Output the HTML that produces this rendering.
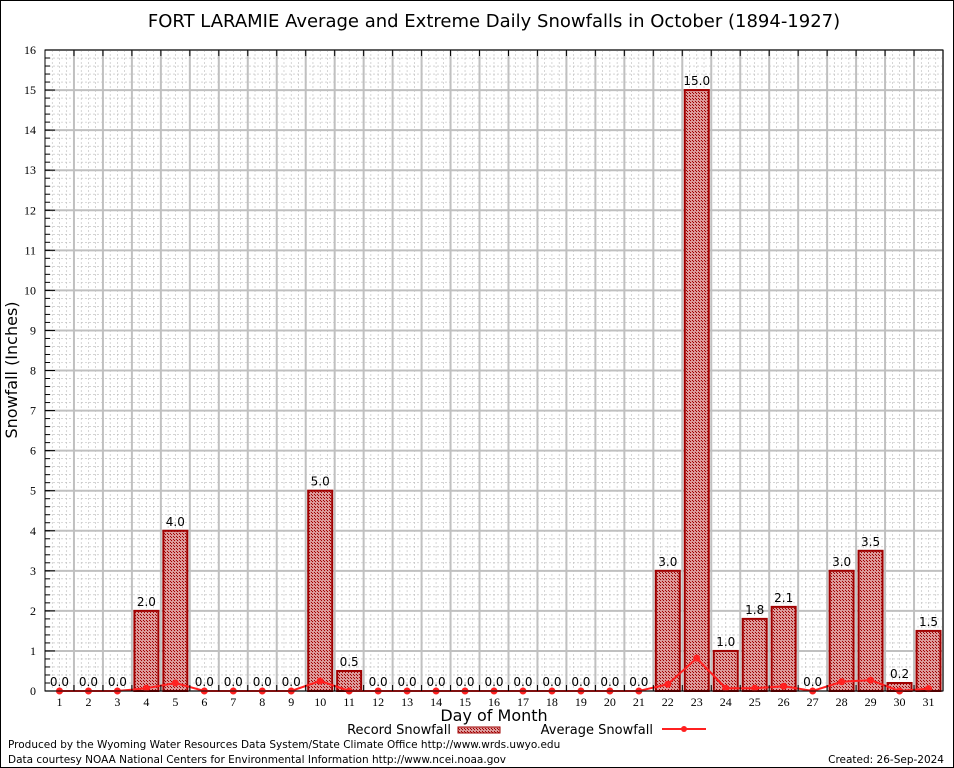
<!DOCTYPE html>
<html><head><meta charset="utf-8"><style>
body{margin:0;background:#fff}
svg{display:block;font-family:"DejaVu Sans","Liberation Sans",sans-serif}
</style></head><body>
<svg id="c" width="954" height="768" xmlns="http://www.w3.org/2000/svg">
<defs>
<pattern id="hatch" width="3" height="3" patternUnits="userSpaceOnUse">
<rect width="3" height="3" fill="#dc9a9a"/>
<rect width="1" height="1" fill="#a00000"/><rect x="2" y="2" width="1" height="1" fill="#a00000"/>
</pattern>
</defs>
<rect x="0.5" y="0.5" width="953" height="767" fill="#fff" stroke="#000"/>
<text x="494" y="27" font-size="18" text-anchor="middle">FORT LARAMIE Average and Extreme Daily Snowfalls in October (1894-1927)</text>
<g id="grid"></g>
<g id="bars"></g>
<g id="avg"></g>
<g id="axes"></g>
<text x="17" y="370" font-size="16" text-anchor="middle" transform="rotate(-90 17 370)">Snowfall (Inches)</text>
<text x="494" y="721" font-size="16" text-anchor="middle">Day of Month</text>
<g>
<text x="451" y="734" font-size="13" text-anchor="end">Record Snowfall</text>
<rect x="458" y="727" width="42" height="6" fill="url(#hatch)" stroke="#a00000"/>
<text x="653" y="734" font-size="13" text-anchor="end">Average Snowfall</text>
<line x1="662" y1="729" x2="706" y2="729" stroke="#ff2020" stroke-width="2"/>
<circle cx="684" cy="729" r="3" fill="#ff2020"/>
</g>
<text x="8" y="748" font-size="10.5">Produced by the Wyoming Water Resources Data System/State Climate Office http://www.wrds.uwyo.edu</text>
<text x="8" y="763" font-size="10.5">Data courtesy NOAA National Centers for Environmental Information http://www.ncei.noaa.gov</text>
<text x="944" y="763" font-size="10.5" text-anchor="end">Created: 26-Sep-2024</text>
</svg>
<script>
const days=[1,2,3,4,5,6,7,8,9,10,11,12,13,14,15,16,17,18,19,20,21,22,23,24,25,26,27,28,29,30,31];
const recordValues=[0,0,0,2.0,4.0,0,0,0,0,5.0,0.5,0,0,0,0,0,0,0,0,0,0,3.0,15.0,1.0,1.8,2.1,0,3.0,3.5,0.2,1.5];
const averageValues=[0,0,0,0.07,0.2,0,0,0,0,0.25,0,0,0,0,0,0,0,0,0,0,0,0.17,0.82,0.07,0.07,0.12,0,0.23,0.27,0,0.06];
const yTicks=[0,1,2,3,4,5,6,7,8,9,10,11,12,13,14,15,16];
const L=45,R=943,T=50,B=691;
const x=d=>L+(d-0.5)*(R-L)/31;
const y=v=>B-v*(B-T)/16;
const NS="http://www.w3.org/2000/svg";
function mk(tag,attrs,parent){const e=document.createElementNS(NS,tag);for(const k in attrs)e.setAttribute(k,attrs[k]);document.getElementById(parent).appendChild(e);return e;}
for(let v=0;v<=16;v+=0.2){let l=mk('line',{x1:L,x2:R,y1:y(v),y2:y(v),stroke:'#bbb','stroke-width':0.6,'stroke-dasharray':'2,2'},'grid');

}
for(let d=0.5;d<=31.5;d+=0.25){let l=mk('line',{x1:x(d),x2:x(d),y1:T,y2:B,stroke:'#bbb','stroke-width':0.6,'stroke-dasharray':'2,2'},'grid');

}
yTicks.forEach(v=>{let l=mk('line',{x1:L,x2:R,y1:y(v),y2:y(v),stroke:'#c0c0c0','stroke-width':2},'grid');


let t=mk('text',{x:L-9,y:y(v)+4,'font-size':12,'text-anchor':'end','font-family':'Liberation Serif, serif'},'axes');t.textContent=v;


mk('line',{x1:L,x2:L+10,y1:y(v),y2:y(v),stroke:'#000'},'axes');});
for(let v=0;v<=16;v+=0.2){mk('line',{x1:L,x2:L+5,y1:y(v),y2:y(v),stroke:'#000'},'axes');}
days.forEach(d=>{let l=mk('line',{x1:x(d+0.5),x2:x(d+0.5),y1:T,y2:B,stroke:'#c0c0c0','stroke-width':2},'grid');


mk('line',{x1:x(d+0.5),x2:x(d+0.5),y1:T,y2:T+6,stroke:'#000'},'axes');
mk('line',{x1:x(d+0.5),x2:x(d+0.5),y1:B,y2:B-6,stroke:'#000'},'axes');
let t=mk('text',{x:x(d),y:B+15,'font-size':12,'text-anchor':'middle','font-family':'Liberation Serif, serif'},'axes');t.textContent=d;

});
let fr=mk('rect',{x:L,y:T,width:R-L,height:B-T,fill:'none',stroke:'#000'},'axes');


const bw=24;
days.forEach((d,i)=>{const v=recordValues[i];
if(v>0){let r=mk('rect',{x:x(d)-bw/2,y:y(v),width:bw,height:B-y(v),fill:'url(#hatch)',stroke:'#a00000','stroke-width':2},'bars');

}
let t=mk('text',{x:x(d),y:y(v)-5,'font-size':12,'text-anchor':'middle'},'bars');t.textContent=v.toFixed(1);

});
let pl=mk('polyline',{points:days.map((d,i)=>x(d)+','+y(averageValues[i])).join(' '),fill:'none',stroke:'#ff2020','stroke-width':2},'avg');


days.forEach((d,i)=>{let c=mk('circle',{cx:x(d),cy:y(averageValues[i]),r:3.5,fill:'#ff2020'},'avg');

});
</script>
</body></html>
